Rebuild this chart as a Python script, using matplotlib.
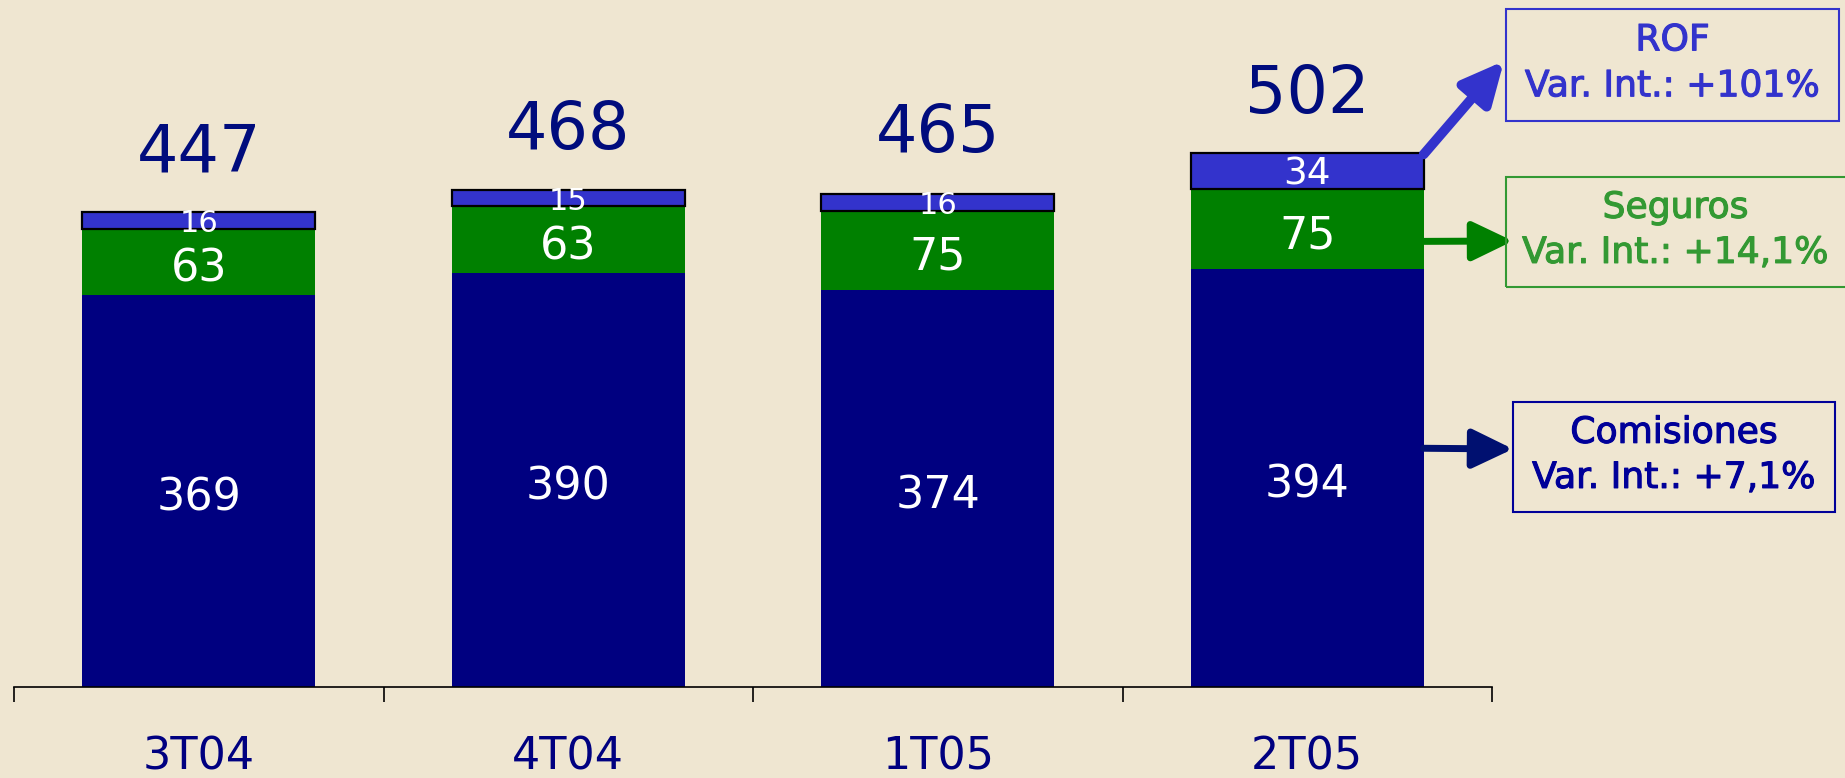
import matplotlib
matplotlib.use("Agg")
import matplotlib.pyplot as plt
import matplotlib.patheffects as pe
from matplotlib.patches import Rectangle

# data
quarters = ["3T04", "4T04", "1T05", "2T05"]
comisiones = [369, 390, 374, 394]
seguros = [63, 63, 75, 75]
rof = [16, 15, 16, 34]
totals = [447, 468, 465, 502]

legend_names = ["ROF", "Seguros", "Comisiones"]
legend_vars = ["Var. Int.: +101%", "Var. Int.: +14,1%", "Var. Int.: +7,1%"]

BG = "#EFE6D1"
NAVY = "#000080"
GREEN = "#008000"
BLUE = "#3333CC"

W, H = 1845, 778
plt.rcParams['font.family'] = ['DejaVu Sans Condensed', 'DejaVu Sans']

fig = plt.figure(figsize=(W / 100, H / 100), dpi=100, facecolor=BG)
ax = fig.add_axes([14 / W, (H - 687) / H, (1492 - 14) / W, 687 / H])
ax.set_facecolor(BG)

x = list(range(len(quarters)))
width = 0.63
bottom2 = [a + b for a, b in zip(comisiones, seguros)]

ax.bar(x, comisiones, width, color=NAVY)
ax.bar(x, seguros, width, bottom=comisiones, color=GREEN)
ax.bar(x, rof, width, bottom=bottom2, color=BLUE, edgecolor="black", linewidth=1.6)

for i in x:
    ax.annotate(str(comisiones[i]), (i, comisiones[i] / 2), xytext=(0, -5),
                textcoords="offset points", ha="center", va="center",
                color="white", fontsize=32)
    ax.annotate(str(seguros[i]), (i, comisiones[i] + seguros[i] / 2), xytext=(0, -5),
                textcoords="offset points", ha="center", va="center",
                color="white", fontsize=32)
    ax.annotate(str(rof[i]), (i, bottom2[i] + rof[i] / 2), xytext=(0, -2.5),
                textcoords="offset points", ha="center", va="center",
                color="white", fontsize=22 if rof[i] < 20 else 27)
    ax.annotate(str(totals[i]), (i, totals[i]), xytext=(0, 30), textcoords="offset points",
                ha="center", va="baseline", color="#000C7D", fontsize=47)

ax.set_xlim(-0.5, len(quarters) - 0.5)
ax.set_ylim(0, 647.5)

# boundaries get the tick marks, centres get the labels
ax.set_xticks([i - 0.5 for i in range(len(quarters) + 1)])
ax.set_xticklabels([])
ax.set_xticks(x, minor=True)
ax.set_xticklabels(quarters, minor=True)
ax.tick_params(axis="x", which="major", length=11, width=1.2, direction="out")
ax.tick_params(axis="x", which="minor", length=0, pad=35, labelsize=32, labelcolor=NAVY)
ax.set_yticks([])
for s in ["left", "right", "top"]:
    ax.spines[s].set_visible(False)
ax.spines["bottom"].set_linewidth(1.2)


def fx(px):
    return px / W


def fy(py):
    return 1 - py / H


# legend boxes (pixel boxes, top-down y)
boxes = [(1506, 9, 1839, 121), (1506, 177, 1850, 287), (1513, 402, 1835, 512)]
colors = [BLUE, "#339933", "#000099"]
for (x0, y0, x1, y1), name, var, c in zip(boxes, legend_names, legend_vars, colors):
    fig.patches.append(Rectangle((fx(x0), fy(y1)), fx(x1 - x0), (y1 - y0) / H,
                                 transform=fig.transFigure, fill=False,
                                 edgecolor=c, linewidth=1.5))
    cx = fx((x0 + min(x1, W)) / 2)
    bh = (y1 - y0)
    heavy = [pe.withStroke(linewidth=0.8, foreground=c)]
    fig.text(cx, fy(y0 + bh * 0.28), name, ha="center", va="center", color=c,
             fontsize=26, path_effects=heavy)
    fig.text(cx, fy(y0 + bh * 0.69), var, ha="center", va="center", color=c,
             fontsize=26, path_effects=heavy)

# arrows from last bar to the boxes
right = x[-1] + width / 2
arrows = [((right, totals[-1]), (1504, H - 61), BLUE, 7),
          ((right, 420), (1513, H - 241), GREEN, 5),
          ((right, 225), (1513, H - 449), "#001070", 5)]
for tail, head, c, lw in arrows:
    ax.annotate("", xy=head, xycoords="figure pixels", xytext=tail, textcoords="data",
                arrowprops=dict(arrowstyle="-|>,head_length=1.25,head_width=0.6",
                                mutation_scale=20, color=c, lw=lw,
                                shrinkA=0, shrinkB=0))

fig.savefig("out.png", dpi=100, facecolor=BG)
